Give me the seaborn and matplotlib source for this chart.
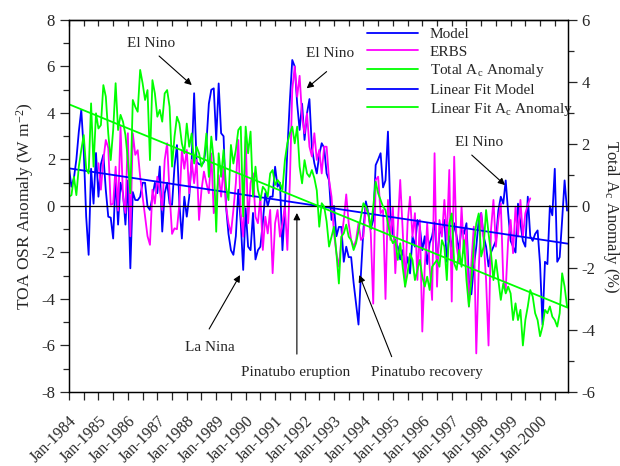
import numpy as np
import pandas as pd
import seaborn as sns
import matplotlib
import matplotlib.pyplot as plt
from matplotlib.lines import Line2D

matplotlib.use('Agg')

# monthly values from Jan-1984
start_year = 1984
model = [
    1.62, 0.83, 1.2, 2.0, 3.2, 4.13, 2.4, -0.46, -2.1, 1.6, 0.1, 2.28,
    0.4, 1.8, 2.2, 0.69, -0.46, -0.5, -1.4, 1.27, -0.8, 1.0, 0.55, -0.8,
    1.1, -2.68, 0.6, 0.26, 0.25, 0.4, 1.0, 1.0, -0.02, -0.17, 0.4, 1.0,
    0.55, 1.7, -1.1, 0.55, 1.0, 0.1, 0.05, 1.7, 2.62, 0.1, -1.4, 0.4,
    -0.46, 0.4, 2.0, 4.85, 1.9, 1.8, 1.76, 1.9, 2.7, 4.4, 5.0, 5.06,
    2.84, 5.27, 3.13, 3.0, 0.0, -1.2, -1.9, -2.1, -1.3, 0.7, -0.7, -2.75,
    -0.1, -1.75, -1.9, -0.3, -2.3, -1.9, -1.75, -0.7, 0.55, 0.0, 0.4, 0.4,
    1.69, 0.83, 1.0, -1.9, 0.0, 2.4, 4.5, 6.28, 6.0, 4.4, 3.27, 4.4,
    2.84, 3.98, 4.6, 2.5, 1.84, 1.4, 2.2, 2.7, 2.5, 1.4, 1.1, -0.6,
    0.0, -1.3, -0.9, -0.9, -2.4, -1.75, -2.2, -2.2, -3.3, -4.2, -5.1, -2.9,
    -1.0, 0.2, -0.3, -1.0, -0.6, 1.76, 2.0, 2.27, 0.8, 1.1, 3.2, -0.3,
    -1.2, -1.5, -1.75, -2.3, -1.9, -2.75, -2.2, -2.9, -1.3, -1.75, -0.6, -0.9,
    -1.9, -1.3, -2.5, -1.6, -1.3, -0.7, -2.4, -1.2, -1.0, -0.6, -2.4, -1.3,
    -1.75, -0.74, -1.3, -1.9, -0.9, -1.2, -0.74, -3.2, -3.8, -2.6, -1.75, -0.6,
    -0.3, -1.3, -1.75, -2.6, -2.0, -1.75, -1.5, -0.2, 0.4, 0.1, 1.1, -0.3,
    -1.5, -1.75, -2.0, 0.1, -0.74, -1.5, -1.75, 0.4, -1.3, -1.5, -1.2, -1.05,
    -2.5, -5.1, -2.4, -2.5, 0.0, -0.4, 1.6, -2.4, -2.2, -0.6, 1.1, -0.2,
]

# ERBS starts Jan-1985
erbs_first_month = 12
erbs = [
    1.84, 0.7, 1.98, 2.84, 2.5, 0.05, 0.1, 1.69, -0.2, 3.41, 0.4, -0.3,
    3.13, -1.3, 3.13, 2.2, 2.4, 1.26, 0.4, -0.46, -1.3, -1.67, 0.7, 0.1,
    1.26, 0.7, -0.17, 1.98, 2.7, 0.55, -1.2, -0.96, -1.0, 0.1, 2.4, 1.6,
    2.41, 0.55, 1.98, 0.98, 1.98, -0.6, 0.69, 1.48, 0.98, 0.55, 2.26, -0.31,
    0.12, 1.33, 0.4, 1.69, -0.02, -0.74, -1.18, -0.17, 0.98, 2.84, -0.31, -1.32,
    2.98, -0.74, 0.98, 1.41, -0.46, -0.74, 0.4, -1.89, -0.46, -1.18, -0.17, -2.89,
    -0.74, -0.17, -1.32, -0.74, -0.02, -1.89, 0.98, 5.0, 6.0, 4.7, 5.6, 3.84,
    3.13, 3.98, 2.55, 2.13, 3.13, 1.98, 2.41, 1.4, 2.55, 2.55, 1.12, 0.4,
    -1.17, -2.03, -2.61, -1.46, -0.6, 0.5, -0.74, -1.46, -1.75, -1.46, -0.74, -1.46,
    -1.32, -0.03, -0.31, -1.17, -4.2, 1.12, 1.26, -0.31, -0.17, -4.0, 0.26, -1.46,
    -0.03, -2.89, -0.89, 1.12, -1.03, -3.47, -0.74, 0.4, -1.32, -0.31, -3.18, -0.6,
    -5.4, -2.61, -0.74, -2.61, -4.04, 2.27, -3.47, -0.6, -1.32, 0.26, -1.46, 1.55,
    -4.11, 2.12, -1.75, -2.46, -0.03, -2.03, -1.03, -4.33, -2.46, -0.89, -6.34, -2.75,
    -0.31, -1.46, -3.18, -6.0, -1.03, 0.26, -1.75, -0.6, 0.12, -3.18, -3.6, -1.46,
    -0.6, -2.03, -0.03, -1.32, 0.26, -1.32, -0.31, 0.05, 0.33,
]

# Total Ac anomaly (%), right axis
ac_anom = [
    0.3, 0.35, 0.94, 0.35, 1.27, 1.81, 2.29, 1.2, 1.05, 3.31, 1.27, 2.99,
    2.5, 2.61, 3.9, 3.53, 2.34, 1.48, 2.45, 3.96, 2.45, 2.94, 2.72, 2.29,
    1.48, 0.41, 3.42, 3.2, 3.04, 4.39, 3.96, 3.42, 3.74, 1.48, 4.06, 3.63,
    2.88, 3.1, 2.72, 3.63, 3.74, 3.2, 1.27, 2.24, 2.88, 2.66, 2.02, 1.7,
    2.66, 1.91, 2.34, 1.37, 1.91, 1.7, 1.27, 1.48, 2.34, 0.94, 2.24, 1.48,
    -0.83, 1.7, 0.94, 1.81, 0.62, 0.19, 1.97, 1.37, 1.81, 2.45, 2.56, -0.34,
    2.56, 1.7, 2.4, 0.3, 1.27, 0.52, 0.19, 0.62, 0.52, 0.3, 1.05, 1.16,
    0.68, 0.84, 0.73, 0.52, 1.48, 2.02, 2.34, 2.56, 2.02, 2.56, 1.27, 0.73,
    1.48, 1.05, 0.94, 1.16, 0.9, 0.5, -0.67, 0.09, -0.02, -0.5, -1.31, -0.99,
    -0.67, -1.53, -2.5, -0.99, -0.88, -0.6, -0.99, -1.1, -1.42, -1.2, -0.8, -0.34,
    0.09, -0.02, -0.24, -0.72, -0.02, 0.78, 0.41, 0.19, -0.02, -0.13, -0.56, -0.99,
    -1.2, -1.1, -1.74, -1.2, -1.96, -2.6, -2.17, -1.53, -1.74, -2.39, -2.06, -1.74,
    -2.28, -2.6, -2.28, -2.71, -1.96, -1.85, -1.74, -1.96, -1.1, -1.31, -2.39, -0.56,
    -0.24, -1.85, -2.06, -1.42, -1.96, -1.1, -2.39, -3.24, -2.39, -1.31, -0.56, -0.24,
    -1.63, -1.31, -0.13, -0.88, -1.53, -2.39, -1.74, -2.39, -3.03, -2.5, -2.82, -2.6,
    -2.82, -3.68, -3.14, -3.68, -3.35, -4.5, -3.68, -3.24, -2.71, -2.92, -3.46, -3.68,
    -4.2, -3.89, -3.35, -3.46, -3.24, -3.57, -3.68, -3.89, -3.46, -2.17, -2.6, -3.24,
]

# linear fits (end points)
fit_years = [1984.0, 2000.94]
model_fit = [1.62, -1.62]
ac_fit = [3.28, -3.28]

tick_years = list(range(1984, 2001))

sns.set_theme(style='ticks')
plt.rcParams['font.family'] = ['Liberation Serif', 'DejaVu Serif']
plt.rcParams['mathtext.fontset'] = 'custom'
plt.rcParams['mathtext.rm'] = 'Liberation Serif'
plt.rcParams['mathtext.it'] = 'Liberation Serif:italic'
plt.rcParams['axes.unicode_minus'] = False

BLUE = '#0000ff'
MAGENTA = '#ff00ff'
GREEN = '#00ff00'

df_model = pd.DataFrame({'year': start_year + np.arange(len(model)) / 12, 'val': model})
df_erbs = pd.DataFrame({'year': start_year + (erbs_first_month + np.arange(len(erbs))) / 12, 'val': erbs})
df_ac = pd.DataFrame({'year': start_year + np.arange(len(ac_anom)) / 12, 'val': ac_anom})

fig = plt.figure(figsize=(6.2, 4.66), dpi=100)
ax = fig.add_axes([0.1113, 0.1588, 0.8044, 0.7983])

lw = 1.3
sns.lineplot(data=df_model, x='year', y='val', ax=ax, color=BLUE, lw=lw, estimator=None, legend=False)
sns.lineplot(data=df_erbs, x='year', y='val', ax=ax, color=MAGENTA, lw=lw, estimator=None, legend=False)
sns.lineplot(x=fit_years, y=model_fit, ax=ax, color=BLUE, lw=lw, legend=False)
ax.axhline(0, color='black', lw=0.9, zorder=5)

ax2 = ax.twinx()
sns.lineplot(data=df_ac, x='year', y='val', ax=ax2, color=GREEN, lw=lw, estimator=None, legend=False)
sns.lineplot(x=fit_years, y=ac_fit, ax=ax2, color=GREEN, lw=lw, legend=False)

ax.set_xlim(fit_years[0], fit_years[1])
ax.set_ylim(-8, 8)
ax2.set_ylim(-6, 6)

ax.set_xticks(tick_years)
ax.set_xticks(np.array(tick_years) + 0.5, minor=True)
ax.set_xticklabels([f'Jan-{y}' for y in tick_years], rotation=45, ha='right',
                   va='top', rotation_mode='anchor', fontsize=11.5)
ax.set_yticks(range(-8, 9, 2))
ax.set_yticks(range(-7, 8, 2), minor=True)
ax2.set_yticks(range(-6, 7, 2))
ax2.set_yticks(range(-5, 6, 2), minor=True)

ax.tick_params(axis='x', which='both', direction='out', length=6, width=0.9, pad=9)
ax.tick_params(axis='y', which='major', direction='out', length=6.5, width=0.9, labelsize=12)
ax.tick_params(axis='y', which='minor', direction='out', length=4.5, width=0.9)
ax2.tick_params(axis='y', which='major', direction='out', length=6.5, width=0.9, labelsize=12)
ax2.tick_params(axis='y', which='minor', direction='out', length=4.5, width=0.9)

top = ax.secondary_xaxis('top')
top.set_xticks(tick_years)
top.set_xticks(np.array(tick_years) + 0.5, minor=True)
top.tick_params(axis='x', which='both', direction='in', length=4.5, width=0.9, labeltop=False)

for a in (ax, ax2):
    for s in a.spines.values():
        s.set_linewidth(0.9)
        s.set_color('black')
top.spines['top'].set_linewidth(0.9)

ax.set_xlabel('')
ax.set_ylabel('TOA OSR Anomaly (W m$^{-2}$)', fontsize=12.5, labelpad=4)
ax2.set_ylabel('Total A$_\\mathregular{c}$ Anomaly (%)', fontsize=12, rotation=270, labelpad=13)
ax2.yaxis.set_label_coords(1.106, 0.47)

handles = [
    Line2D([], [], color=BLUE, lw=lw),
    Line2D([], [], color=MAGENTA, lw=lw),
    Line2D([], [], color=GREEN, lw=lw),
    Line2D([], [], color=BLUE, lw=lw),
    Line2D([], [], color=GREEN, lw=lw),
]
labels = ['Model', 'ERBS', 'Total A$_\\mathregular{c}$ Anomaly',
          'Linear Fit Model', 'Linear Fit A$_\\mathregular{c}$ Anomaly']
ax2.legend(handles, labels, loc='upper left', bbox_to_anchor=(0.598, 0.98),
           frameon=False, fontsize=11, handlelength=3.3, handletextpad=0.8,
           labelspacing=0.25, borderpad=0, borderaxespad=0)

# annotations, positions in (year, left-axis value)
arrow = dict(arrowstyle='-|>', color='black', lw=0.8, mutation_scale=10, shrinkA=0, shrinkB=0)
notes = [
    ('El Nino', (1986.79, 6.97), (1987.06, 6.45), (1988.17, 5.2)),
    ('El Nino', (1992.87, 6.58), (1992.75, 5.78), (1992.07, 5.06)),
    ('El Nino', (1997.93, 2.71), (1997.68, 2.19), (1998.81, 0.9)),
    ('La Nina', (1988.79, -6.1), (1988.76, -5.29), (1989.81, -2.97)),
    ('Pinatubo eruption', (1991.71, -7.14), (1991.74, -6.37), (1991.74, -0.3)),
    ('Pinatubo recovery', (1996.15, -7.14), (1994.96, -6.48), (1993.86, -2.97)),
]
for txt, pos, tail, head in notes:
    ax2.text(pos[0], pos[1], txt, transform=ax.transData, ha='center', va='center', fontsize=11)
    ax2.annotate('', xy=head, xytext=tail, xycoords=ax.transData,
                 textcoords=ax.transData, arrowprops=arrow)

fig.savefig('out.png', dpi=100)
